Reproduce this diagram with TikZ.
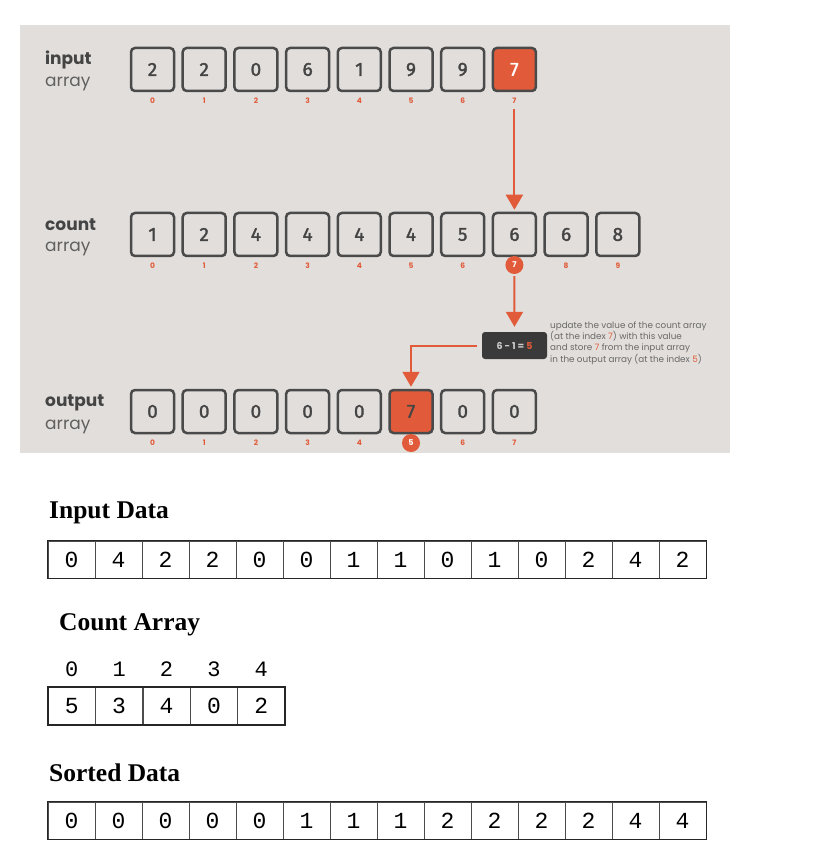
\documentclass[tikz,border=0pt]{standalone}
\usepackage{fontspec}
\setmainfont{Poppins}
\newfontfamily\serifb{Liberation Serif}
\newfontfamily\monof{Liberation Mono}
\newfontfamily\digf[FakeBold=1.6]{Fira Sans}
\usetikzlibrary{arrows.meta}
\definecolor{bgg}{HTML}{E2DEDB}
\definecolor{hot}{HTML}{E15B3A}
\definecolor{boxline}{HTML}{4A4A4A}
\definecolor{txt}{HTML}{444444}
\definecolor{darkbox}{HTML}{3A3A3A}
\tikzset{
  cellbox/.style={draw=boxline, line width=2.5pt, rounded corners=4pt, minimum size=43pt, inner sep=0pt,
    font=\digf\fontsize{19}{19}\selectfont, text=txt},
  hotbox/.style={cellbox, fill=hot, text=white},
  hotboxdark/.style={cellbox, fill=hot, text=txt},
  idx/.style={font=\fontsize{7.5}{7.5}\selectfont\bfseries, text=hot, inner sep=1pt},
  idxc/.style={circle, fill=hot, text=white, minimum size=18pt, inner sep=0pt, font=\fontsize{8}{8}\selectfont\bfseries},
  lblb/.style={anchor=west, font=\fontsize{17}{17}\selectfont\bfseries, text=txt, inner sep=0pt},
  lbl/.style={anchor=west, font=\fontsize{17}{17}\selectfont, text=txt!85, inner sep=0pt},
  flow/.style={draw=hot, line width=2pt, -{Triangle[width=17pt,length=15pt]}},
  title/.style={anchor=west, font=\serifb\fontsize{25.5}{25.5}\selectfont\bfseries, inner sep=0pt},
  dcell/.style={draw=black!70, line width=0.7pt, minimum width=47pt, minimum height=37pt, inner sep=0pt,
    font=\monof\fontsize{23}{23}\selectfont},
  frame/.style={draw=black!85, line width=1.6pt},
  topidx/.style={font=\monof\fontsize{22}{22}\selectfont, inner sep=0pt}
}
\begin{document}
\begin{tikzpicture}[x=1pt,y=-1pt]
\useasboundingbox (0,0) rectangle (824,866);
\fill[bgg] (20,25) rectangle (730,453);

% input array
\node[lblb] (lin1) at (45,60) {input};
\node[lbl] (lin2) at (45,84) {array};
\foreach \v/\s [count=\i from 0] in {2/cellbox,2/cellbox,0/cellbox,6/cellbox,1/cellbox,9/cellbox,9/cellbox,7/hotbox} {
  \node[\s] (in\i) at ({152.5+51.7*\i},69.5) {\v};
  \node[idx] (ini\i) at ({152.5+51.7*\i},101) {\i};
}

% count array
\node[lblb] (lcn1) at (45,225) {count};
\node[lbl] (lcn2) at (45,249) {array};
\foreach \v [count=\i from 0] in {1,2,4,4,4,4,5,6,6,8} {
  \node[cellbox] (cn\i) at ({152.5+51.7*\i},234.5) {\v};
}
\foreach \i in {0,...,6,8,9} {
  \node[idx] (cni\i) at ({152.5+51.7*\i},266) {\i};
}
\node[idxc] (cni7) at ({152.5+51.7*7},265) {7};

% output array
\node[lblb] (lout1) at (45,403) {output};
\node[lbl] (lout2) at (45,427) {array};
\foreach \v/\s [count=\i from 0] in {0/cellbox,0/cellbox,0/cellbox,0/cellbox,0/cellbox,7/hotboxdark,0/cellbox,0/cellbox} {
  \node[\s] (out\i) at ({152.5+51.7*\i},411.5) {\v};
}
\foreach \i in {0,...,4,6,7} {
  \node[idx] (outi\i) at ({152.5+51.7*\i},443) {\i};
}
\node[idxc] (outi5) at ({152.5+51.7*5},443) {5};

% calculation box
\node[fill=darkbox, rounded corners=3pt, minimum width=65pt, minimum height=27pt, inner sep=0pt,
  font=\fontsize{9.5}{9.5}\selectfont\bfseries, text=white!80!black] (calc) at (514.5,345.5) {6 - 1 = \textcolor{hot}{5}};

\node[anchor=west, align=left, inner sep=0pt, text=txt!80, font=\fontsize{8.8}{11.3}\selectfont] (note) at (550,343)
  {update the value of the count array\\
   (at the index \textcolor{hot}{7}) with this value\\
   and store \textcolor{hot}{7} from the input array\\
   in the output array (at the index \textcolor{hot}{5})};

% arrows
\draw[flow, shorten <=4pt, shorten >=2pt] (ini7.south) -- (cn7.north);
\draw[flow, shorten <=2pt, shorten >=5pt] (cni7.south) -- (calc.north);
\draw[flow, shorten <=5pt, shorten >=2pt] (calc.west) -| (out5.north);

% ---- bottom part ----
\node[title] (t1) at (49,513) {Input Data};
\foreach \v [count=\i from 0] in {0,4,2,2,0,0,1,1,0,1,0,2,4,2} {
  \node[dcell] (a\i) at ({48+23.5+47*\i},559.5) {\v};
}
\draw[frame] (a0.north west) rectangle (a13.south east);

\node[title] (t2) at (59,625) {Count Array};
\foreach \v [count=\i from 0] in {5,3,4,0,2} {
  \node[dcell] (c\i) at ({48+23.7+47.4*\i},706) {\v};
  \node[topidx] (ci\i) at ({48+23.7+47.4*\i},669) {\the\numexpr\i\relax};
}
\draw[frame] (c0.north west) rectangle (c4.south east);

\node[title] (t3) at (49,773) {Sorted Data};
\foreach \v [count=\i from 0] in {0,0,0,0,0,1,1,1,2,2,2,2,4,4} {
  \node[dcell] (s\i) at ({48+23.5+47*\i},820.5) {\v};
}
\draw[frame] (s0.north west) rectangle (s13.south east);
\end{tikzpicture}
\end{document}
